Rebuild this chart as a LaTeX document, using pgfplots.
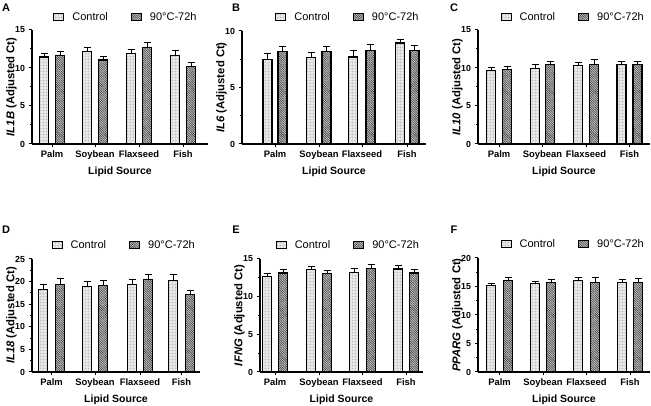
\documentclass[border=0pt]{standalone}
\usepackage{pgfplots}
\pgfplotsset{compat=1.18}
\usepackage{fontspec}
\setmainfont{Liberation Sans}
\usetikzlibrary{patterns.meta}

\pgfplotsset{
  panel/.style={
    scale only axis,
    anchor=south west,
    axis lines=left,
    axis line style={-, line width=1.1pt, black},
    xmin=0, ymin=0,
    clip=false,
    tick align=outside,
    major tick length=3.5pt,
    minor tick length=2pt,
    minor y tick num=1,
    every tick/.style={black, line width=1pt},
    /pgf/number format/assume math mode=true,
    yticklabel style={font=\bfseries\fontsize{8.8}{10}\selectfont},
    xticklabel style={font=\bfseries\fontsize{9.4}{11}\selectfont},
    xticklabels={Palm,Soybean,Flaxseed,Fish},
    xlabel={Lipid Source},
    xlabel style={font=\bfseries\fontsize{10.5}{12}\selectfont},
    ylabel style={font=\bfseries\fontsize{11.3}{13}\selectfont},
    ylabel shift=-8.5pt,
    legend columns=2,
    legend style={draw=none, fill=none, inner sep=0pt,
      font=\fontsize{11}{13}\selectfont,
      /tikz/every odd column/.append style={column sep=6pt},
      /tikz/every even column/.append style={column sep=21pt}},
    legend image code/.code={\draw[#1] (0pt,-3.6pt) rectangle (10pt,3.6pt);},
  },
  ctrl/.style={ybar, bar shift=0pt, bar width=9, draw=black, line width=1.1pt,
    fill=gray!12,
    postaction={pattern={Dots[distance=1.5pt, radius=0.4pt]}, pattern color=gray!75},
    error bars/.cd, y dir=plus, y explicit,
    error bar style={line width=1pt, black},
    error mark options={rotate=90, mark size=3.5pt, line width=1pt, black}},
  treat/.style={ybar, bar shift=0pt, bar width=9, draw=black, line width=1.1pt,
    fill=gray!45,
    postaction={pattern={Lines[angle=-45, distance=1.6pt, line width=0.55pt]}, pattern color=black!80},
    error bars/.cd, y dir=plus, y explicit,
    error bar style={line width=1pt, black},
    error mark options={rotate=90, mark size=3.5pt, line width=1pt, black}},
}

\begin{document}
\begin{tikzpicture}
\useasboundingbox (0pt,0pt) rectangle (651pt,406pt);

% ---------------- A ----------------
\begin{scope}[shift={(32pt,262pt)}]
\begin{axis}[panel,
  width=176pt, height=114pt, xmax=176, ymax=15, ytick={0,5,10,15},
  xtick={20,63,107,151},
  ylabel={\textit{IL1B} (Adjusted Ct)},
  legend style={at={(axis description cs:0.12,1.114)}, anchor=west}]
\addplot[ctrl] coordinates {(12,11.45)+-(0,0.45) (55,12.15)+-(0,0.55) (99,11.9)+-(0,0.55) (143,11.7)+-(0,0.6)};
\addplot[treat] coordinates {(28,11.6)+-(0,0.55) (71,11.05)+-(0,0.45) (115,12.7)+-(0,0.6) (159,10.25)+-(0,0.45)};
\legend{Control,90°C-72h}
\end{axis}
\end{scope}

% ---------------- B ----------------
\begin{scope}[shift={(242pt,262pt)}]
\begin{axis}[panel,
  width=184pt, height=113pt, xmax=184, ymax=10, ytick={0,5,10},
  xtick={33,77,120,165},
  ylabel={\textit{IL6} (Adjusted Ct)},
  legend style={at={(axis description cs:0.18,1.124)}, anchor=west}]
\addplot[ctrl] coordinates {(25.5,7.47)+-(0,0.53) (69,7.62)+-(0,0.47) (111,7.7)+-(0,0.54) (158,8.94)+-(0,0.3)};
\addplot[treat] coordinates {(40.5,8.15)+-(0,0.5) (84.5,8.2)+-(0,0.45) (128.5,8.24)+-(0,0.6) (172.5,8.24)+-(0,0.44)};
\legend{Control,90°C-72h}
\end{axis}
\end{scope}

% ---------------- C ----------------
\begin{scope}[shift={(478pt,262pt)}]
\begin{axis}[panel,
  width=172pt, height=114pt, xmax=172, ymax=15, ytick={0,5,10,15},
  xtick={21,64.5,108,151.5},
  ylabel={\textit{IL10} (Adjusted Ct)},
  legend style={at={(axis description cs:0.13,1.114)}, anchor=west}]
\addplot[ctrl] coordinates {(13,9.63)+-(0,0.44) (57,9.9)+-(0,0.53) (100,10.38)+-(0,0.4) (143.5,10.5)+-(0,0.37)};
\addplot[treat] coordinates {(29,9.77)+-(0,0.43) (72,10.5)+-(0,0.37) (116,10.43)+-(0,0.66) (159.5,10.5)+-(0,0.4)};
\legend{Control,90°C-72h}
\end{axis}
\end{scope}

% ---------------- D ----------------
\begin{scope}[shift={(32pt,34pt)}]
\begin{axis}[panel,
  width=168pt, height=113pt, xmax=168, ymax=25, ytick={0,5,10,15,20,25},
  xtick={19.5,63,108,149.5},
  ylabel={\textit{IL18} (Adjusted Ct)},
  legend style={at={(axis description cs:0.115,1.124)}, anchor=west}]
\addplot[ctrl] coordinates {(11,18.3)+-(0,1.0) (55,18.9)+-(0,1.2) (100,19.3)+-(0,1.1) (141,20.2)+-(0,1.4)};
\addplot[treat] coordinates {(28,19.4)+-(0,1.3) (71,19.1)+-(0,1.1) (116,20.5)+-(0,1.1) (158,17.1)+-(0,0.9)};
\legend{Control,90°C-72h}
\end{axis}
\end{scope}

% ---------------- E ----------------
\begin{scope}[shift={(260pt,34pt)}]
\begin{axis}[panel,
  width=163pt, height=113pt, xmax=163, ymax=15, ytick={0,5,10,15},
  xtick={15,59,102.5,146},
  ylabel={\textit{IFNG} (Adjusted Ct)},
  legend style={at={(axis description cs:0.095,1.124)}, anchor=west}]
\addplot[ctrl] coordinates {(7,12.7)+-(0,0.35) (51,13.63)+-(0,0.35) (94,13.19)+-(0,0.53) (138,13.67)+-(0,0.45)};
\addplot[treat] coordinates {(23,13.14)+-(0,0.44) (67,13.05)+-(0,0.45) (111,13.72)+-(0,0.57) (154,13.14)+-(0,0.49)};
\legend{Control,90°C-72h}
\end{axis}
\end{scope}

% ---------------- F ----------------
\begin{scope}[shift={(478pt,34pt)}]
\begin{axis}[panel,
  width=172pt, height=114pt, xmax=172, ymax=20, ytick={0,5,10,15,20},
  xtick={21.5,65,108.5,152},
  ylabel={\textit{PPARG} (Adjusted Ct)},
  legend style={at={(axis description cs:0.13,1.124)}, anchor=west}]
\addplot[ctrl] coordinates {(13,15.2)+-(0,0.4) (57,15.6)+-(0,0.3) (100,16.0)+-(0,0.5) (144,15.76)+-(0,0.54)};
\addplot[treat] coordinates {(30,16.0)+-(0,0.5) (73,15.7)+-(0,0.5) (117,15.76)+-(0,0.74) (160,15.76)+-(0,0.59)};
\legend{Control,90°C-72h}
\end{axis}
\end{scope}

% panel letters
\foreach \l/\x/\y in {A/6/398, B/236/398, C/454/398, D/6/176, E/236/176, F/454/176}
  \node[font=\bfseries\fontsize{11}{13}\selectfont] at (\x pt,\y pt) {\l};
\end{tikzpicture}
\end{document}
